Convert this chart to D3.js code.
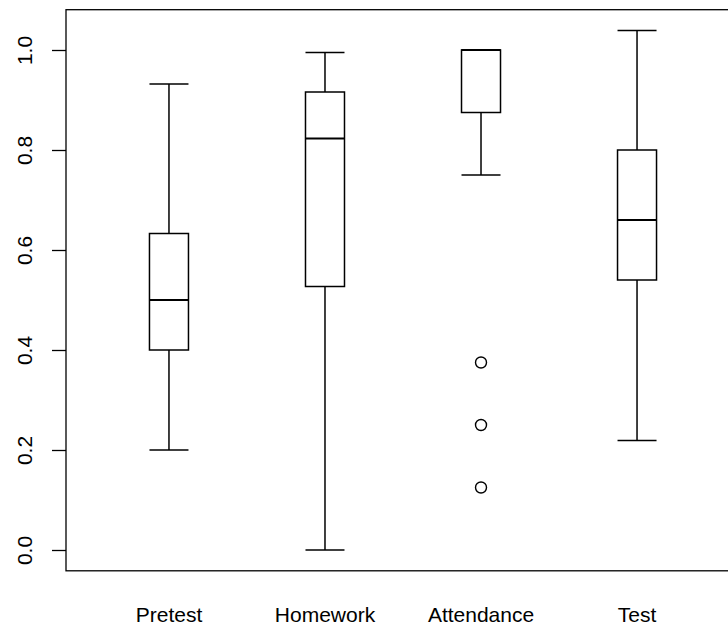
<!DOCTYPE html>
<html>
<head>
<meta charset="utf-8">
<script src="https://cdn.jsdelivr.net/npm/d3@7"></script>
<style>
  body { margin: 0; background: #fff; }
  text { font-family: "Liberation Sans", Arial, sans-serif; }
</style>
</head>
<body>
<svg width="728" height="627"></svg>
<script>
var categories = ["Pretest", "Homework", "Attendance", "Test"];
var whiskerLo = [0.2, 0.0, 0.75, 0.219];
var q1 = [0.4, 0.527, 0.875, 0.54];
var median = [0.5, 0.823, 1.0, 0.66];
var q3 = [0.633, 0.916, 1.0, 0.8];
var whiskerHi = [0.932, 0.995, 1.0, 1.039];
var outliers = [[], [], [0.375, 0.25, 0.125], []];
var yTicks = [0, 0.2, 0.4, 0.6, 0.8, 1.0];

var svg = d3.select("svg"),
  width = +svg.attr("width"),
  height = +svg.attr("height");

var x = d3.scaleLinear().domain([0.34, 4.66]).range([66, 740]);
var y = d3.scaleLinear().domain([-0.0416, 1.0806]).range([570.8, 9.7]);
var boxW = 39;

var data = categories.map(function (c, i) {
  return {
    name: c, pos: i + 1,
    lo: whiskerLo[i], q1: q1[i], med: median[i], q3: q3[i], hi: whiskerHi[i],
    out: outliers[i]
  };
});

// frame
svg.append("rect")
  .attr("x", x(0.34)).attr("y", y(1.0806))
  .attr("width", x(4.66) - x(0.34)).attr("height", y(-0.0416) - y(1.0806))
  .attr("fill", "none").attr("stroke", "#000").attr("stroke-width", 1.3);

// y axis
var yAxis = svg.append("g")
  .attr("transform", "translate(" + x(0.34) + ",0)")
  .call(d3.axisLeft(y).tickValues(yTicks).tickSize(14).tickFormat(d3.format(".1f")));
yAxis.select(".domain").remove();
yAxis.selectAll(".tick line").attr("stroke", "#000").attr("stroke-width", 1.3);
yAxis.selectAll(".tick text")
  .attr("font-size", 21)
  .attr("fill", "#000")
  .attr("text-anchor", "middle")
  .attr("transform", "rotate(-90)")
  .attr("x", 0)
  .attr("dy", 0)
  .attr("y", -34);

// x labels
svg.append("g").selectAll("text")
  .data(data).enter().append("text")
  .attr("x", function (d) { return x(d.pos); })
  .attr("y", 622)
  .attr("text-anchor", "middle")
  .attr("font-size", 21)
  .text(function (d) { return d.name; });

var g = svg.append("g").attr("stroke", "#000").attr("fill", "none").attr("stroke-width", 1.5);

var box = g.selectAll("g.box").data(data).enter().append("g").attr("class", "box");

// whiskers
box.append("line")
  .attr("x1", function (d) { return x(d.pos); })
  .attr("x2", function (d) { return x(d.pos); })
  .attr("y1", function (d) { return y(d.q3); })
  .attr("y2", function (d) { return y(d.hi); });
box.append("line")
  .attr("x1", function (d) { return x(d.pos); })
  .attr("x2", function (d) { return x(d.pos); })
  .attr("y1", function (d) { return y(d.q1); })
  .attr("y2", function (d) { return y(d.lo); });

// staples
box.append("line")
  .attr("x1", function (d) { return x(d.pos) - boxW / 2; })
  .attr("x2", function (d) { return x(d.pos) + boxW / 2; })
  .attr("y1", function (d) { return y(d.hi); })
  .attr("y2", function (d) { return y(d.hi); });
box.append("line")
  .attr("x1", function (d) { return x(d.pos) - boxW / 2; })
  .attr("x2", function (d) { return x(d.pos) + boxW / 2; })
  .attr("y1", function (d) { return y(d.lo); })
  .attr("y2", function (d) { return y(d.lo); });

// boxes
box.append("rect")
  .attr("x", function (d) { return x(d.pos) - boxW / 2; })
  .attr("width", boxW)
  .attr("y", function (d) { return y(d.q3); })
  .attr("height", function (d) { return y(d.q1) - y(d.q3); })
  .attr("fill", "#fff");

// medians
box.append("line")
  .attr("stroke-width", 2.2)
  .attr("x1", function (d) { return x(d.pos) - boxW / 2; })
  .attr("x2", function (d) { return x(d.pos) + boxW / 2; })
  .attr("y1", function (d) { return y(d.med); })
  .attr("y2", function (d) { return y(d.med); });

// outliers
box.selectAll("circle")
  .data(function (d) { return d.out.map(function (v) { return { pos: d.pos, v: v }; }); })
  .enter().append("circle")
  .attr("cx", function (d) { return x(d.pos); })
  .attr("cy", function (d) { return y(d.v); })
  .attr("r", 5.5)
  .attr("stroke-width", 1.4);
</script>
</body>
</html>
